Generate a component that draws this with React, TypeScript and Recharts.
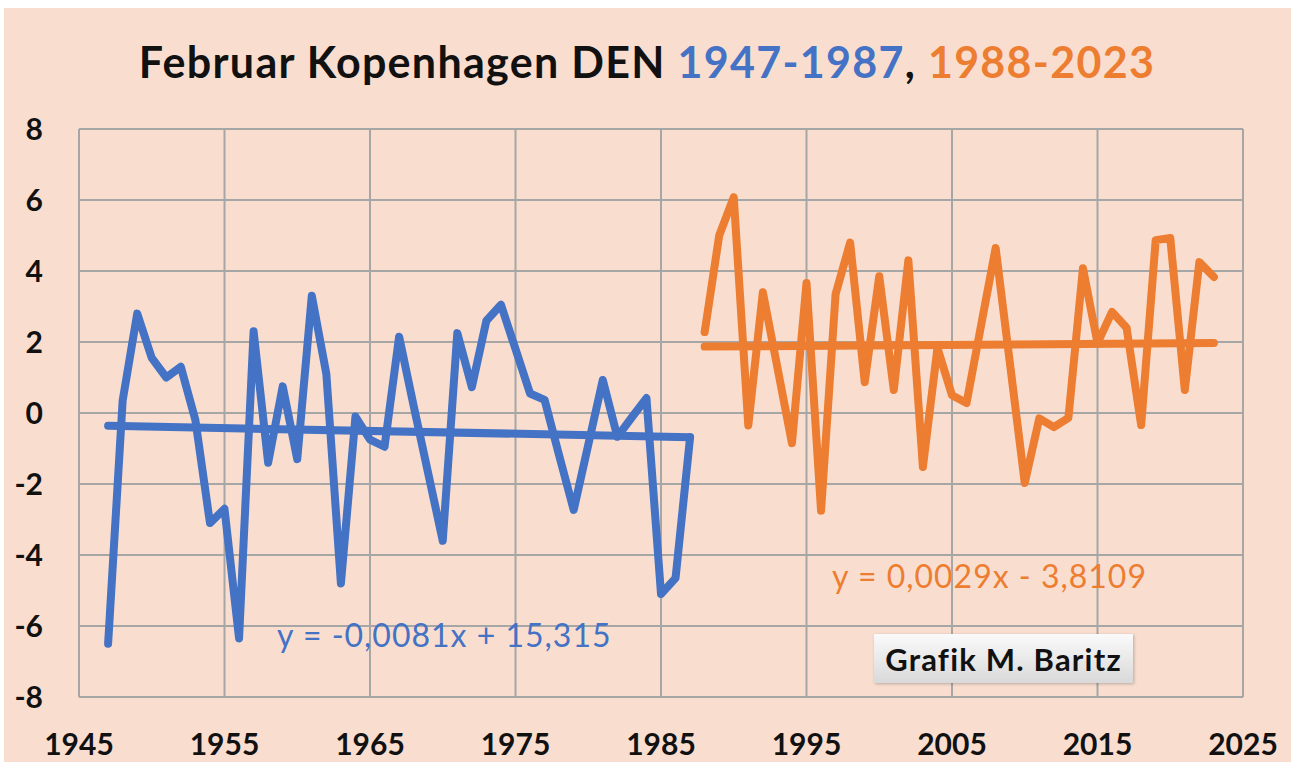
import { CartesianGrid, Line, LineChart, XAxis, YAxis } from "recharts";

const blueYears = [
  1947, 1948, 1949, 1950, 1951, 1952, 1953, 1954, 1955, 1956, 1957, 1958, 1959, 1960,
  1961, 1962, 1963, 1964, 1965, 1966, 1967, 1968, 1969, 1970, 1971, 1972, 1973, 1974,
  1975, 1976, 1977, 1978, 1979, 1980, 1981, 1982, 1983, 1984, 1985, 1986, 1987,
];
const blueValues = [
  -6.5, 0.35, 2.8, 1.55, 1.0, 1.3, -0.2, -3.1, -2.7, -6.35, 2.3, -1.4, 0.75, -1.3,
  3.3, 1.1, -4.8, -0.1, -0.75, -0.95, 2.15, 0.2, -1.7, -3.6, 2.25, 0.73, 2.6, 3.05,
  1.8, 0.55, 0.37, -1.2, -2.73, -0.9, 0.93, -0.67, -0.12, 0.42, -5.1, -4.65, -0.68,
];

const orangeYears = [
  1988, 1989, 1990, 1991, 1992, 1993, 1994, 1995, 1996, 1997, 1998, 1999, 2000, 2001,
  2002, 2003, 2004, 2005, 2006, 2007, 2008, 2009, 2010, 2011, 2012, 2013, 2014, 2015,
  2016, 2017, 2018, 2019, 2020, 2021, 2022, 2023,
];
const orangeValues = [
  2.28, 5.0, 6.08, -0.35, 3.4, 1.28, -0.85, 3.66, -2.75, 3.35, 4.8, 0.87, 3.85, 0.65,
  4.3, -1.52, 1.83, 0.5, 0.28, 2.47, 4.65, 1.34, -1.97, -0.15, -0.4, -0.14, 4.08, 1.97,
  2.85, 2.4, -0.34, 4.87, 4.93, 0.65, 4.25, 3.83,
];

// trend line end points as drawn
const blueTrendYears = [1947, 1987];
const blueTrendValues = [-0.36, -0.68];
const orangeTrendYears = [1988, 2023];
const orangeTrendValues = [1.87, 1.97];

const xTicks = [1945, 1955, 1965, 1975, 1985, 1995, 2005, 2015, 2025];
const yTicks = [-8, -6, -4, -2, 0, 2, 4, 6, 8];

const BLUE = "#4472C4";
const ORANGE = "#ED7D31";
const FONT = "Lato, 'Open Sans', sans-serif";

const toRows = (years: number[], values: number[]) =>
  years.map((year, i) => ({ year, v: values[i] }));

const blueRows = toRows(blueYears, blueValues);
const orangeRows = toRows(orangeYears, orangeValues);
const blueTrend = toRows(blueTrendYears, blueTrendValues);
const orangeTrend = toRows(orangeTrendYears, orangeTrendValues);

const tick = { fontFamily: FONT, fontWeight: 700, fontSize: 30, fill: "#111" };

export default function App() {
  return (
    <div
      style={{
        position: "fixed",
        left: 0,
        top: 0,
        width: 1291,
        height: 762,
        background: "#fff",
        overflow: "hidden",
        fontFamily: FONT,
      }}
    >
      <div
        style={{
          position: "absolute",
          left: 4,
          top: 8,
          width: 1287,
          height: 754,
          background: "#F9DED0",
        }}
      />
      <div
        style={{
          position: "absolute",
          left: 0,
          top: 37,
          width: 1294,
          textAlign: "center",
          fontSize: 43,
          fontWeight: 700,
          letterSpacing: 1.3,
          lineHeight: "50px",
          color: "#111",
          whiteSpace: "nowrap",
        }}
      >
        Februar Kopenhagen DEN <span style={{ color: BLUE }}>1947-1987</span>,{" "}
        <span style={{ color: ORANGE }}>1988-2023</span>
      </div>

      <div style={{ position: "absolute", left: 0, top: 0 }}>
        <LineChart
          width={1291}
          height={762}
          margin={{ top: 129, right: 48, bottom: 0, left: 0 }}
        >
          <CartesianGrid stroke="#A6A6A6" strokeWidth={2} />
          <XAxis
            type="number"
            dataKey="year"
            domain={[1945, 2025]}
            ticks={xTicks}
            allowDataOverflow
            axisLine={false}
            tickLine={false}
            tickSize={0}
            tickMargin={37}
            height={65}
            tick={tick}
            interval={0}
          />
          <YAxis
            type="number"
            domain={[-8, 8]}
            ticks={yTicks}
            axisLine={false}
            tickLine={false}
            tickSize={0}
            tickMargin={36}
            width={79}
            tick={tick}
            interval={0}
          />
          <Line
            data={blueRows}
            dataKey="v"
            stroke={BLUE}
            strokeWidth={8}
            dot={false}
            strokeLinejoin="round"
            strokeLinecap="round"
            isAnimationActive={false}
          />
          <Line
            data={blueTrend}
            dataKey="v"
            stroke={BLUE}
            strokeWidth={8}
            dot={false}
            strokeLinecap="round"
            isAnimationActive={false}
          />
          <Line
            data={orangeRows}
            dataKey="v"
            stroke={ORANGE}
            strokeWidth={8}
            dot={false}
            strokeLinejoin="round"
            strokeLinecap="round"
            isAnimationActive={false}
          />
          <Line
            data={orangeTrend}
            dataKey="v"
            stroke={ORANGE}
            strokeWidth={8}
            dot={false}
            strokeLinecap="round"
            isAnimationActive={false}
          />
        </LineChart>
      </div>

      <div
        style={{
          position: "absolute",
          left: 277,
          top: 617,
          fontSize: 32,
          letterSpacing: 1,
          color: BLUE,
          whiteSpace: "nowrap",
          lineHeight: "36px",
        }}
      >
        y = -0,0081x + 15,315
      </div>
      <div
        style={{
          position: "absolute",
          left: 832,
          top: 558,
          fontSize: 32,
          letterSpacing: 1,
          color: ORANGE,
          whiteSpace: "nowrap",
          lineHeight: "36px",
        }}
      >
        y = 0,0029x - 3,8109
      </div>
      <div
        style={{
          position: "absolute",
          left: 874,
          top: 634,
          width: 259,
          height: 49,
          background: "linear-gradient(#FAFAFA, #D9D9D9)",
          boxShadow: "1px 1px 3px rgba(0,0,0,0.25)",
          display: "flex",
          alignItems: "center",
          justifyContent: "center",
          fontSize: 31,
          letterSpacing: 1.2,
          fontWeight: 700,
          color: "#111",
        }}
      >
        Grafik M. Baritz
      </div>
    </div>
  );
}
